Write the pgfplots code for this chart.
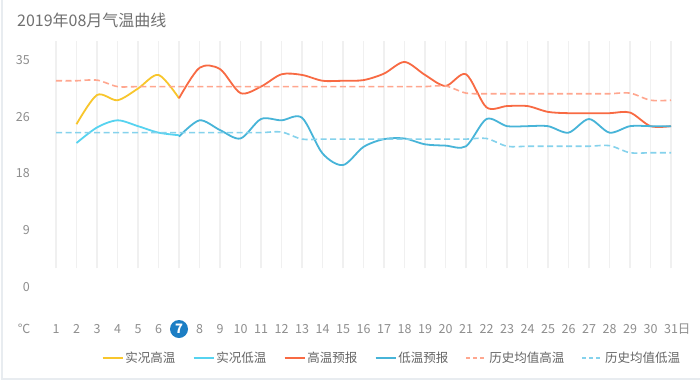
\documentclass[border=0pt]{standalone}
\usepackage{fontspec}
\newfontfamily\cjk{Noto Sans CJK SC}
\usepackage{pgfplots}
\pgfplotsset{compat=1.18}
\definecolor{cYel}{HTML}{F8C62C}
\definecolor{cCyan}{HTML}{56D3F0}
\definecolor{cRed}{HTML}{F86A43}
\definecolor{cBlue}{HTML}{47B4D8}
\definecolor{cHistHi}{HTML}{FFA78F}
\definecolor{cHistLo}{HTML}{85D2EC}
\definecolor{cGrid}{HTML}{F0F0F0}
\definecolor{cTick}{HTML}{8E8E8E}
\definecolor{cTitle}{HTML}{707070}
\definecolor{cLeg}{HTML}{666666}
\definecolor{cSeven}{HTML}{1C7EC4}
\definecolor{cFrame}{HTML}{E8ECF0}
\begin{document}
\begin{tikzpicture}
\useasboundingbox (0,0) rectangle (700pt,-382pt);
\fill[white] (0,0) rectangle (700pt,-382pt);
\draw[cFrame, line width=2pt] (2pt,0pt) -- (2pt,-379pt) -- (700pt,-379pt);
\node[anchor=west, inner sep=0pt, font=\cjk\fontsize{16}{18}\selectfont, text=cTitle] at (17pt,-20pt) {2019年08月气温曲线};
\begin{axis}[
  at={(56pt,-287pt)}, anchor=south west,
  scale only axis, width=615pt, height=227pt,
  xmin=1, xmax=31, ymin=0, ymax=35, clip=false,
  axis line style={draw=none}, tick style={draw=none},
  xtick={1,...,31},
  xticklabels={1,2,3,4,5,6,{},8,9,10,11,12,13,14,15,16,17,18,19,20,21,22,23,24,25,26,27,28,29,30,{31\rlap{日}}},
  ytick={0,8.75,17.5,26.25,35},
  yticklabels={0,9,18,26,35},
  /pgf/number format/assume math mode=true,
  xticklabel style={anchor=center, inner sep=0pt, yshift=-42pt, font=\cjk\fontsize{12.5}{14}\selectfont, text=cTick},
  yticklabel style={anchor=east, inner sep=0pt, xshift=-26pt, font=\cjk\fontsize{12.5}{14}\selectfont, text=cTick},
  xmajorgrids,
  major x grid style={draw=cGrid, line width=1.2pt, yshift=19pt},
  legend columns=6,
  legend cell align=left,
  legend style={at={(axis cs:31.55,-10.95)}, anchor=east, draw=none, fill=none, inner sep=0pt,
    font=\cjk\fontsize{12.5}{14}\selectfont, text=cLeg,
    /tikz/every even column/.append style={column sep=15.2pt},
    nodes={inner sep=2pt}},
  legend image code/.code={\draw[#1] (0pt,0pt) -- (20pt,0pt);},
]
\addplot[cYel, line width=1.8pt, smooth] coordinates {(2,25.1)(3,29.6)(4,28.8)(5,30.6)(6,32.7)(7,29.1)};
\addlegendentry{实况高温}
\addplot[cCyan, line width=1.8pt, smooth] coordinates {(2,22.2)(3,24.6)(4,25.7)(5,24.8)(6,23.8)(7,23.4)};
\addlegendentry{实况低温}
\addplot[cRed, line width=1.8pt, smooth] coordinates {(7,29.1)(8,33.8)(9,33.6)(10,29.9)(11,30.9)(12,32.8)(13,32.7)(14,31.8)(15,31.8)(16,31.9)(17,32.9)(18,34.7)(19,32.7)(20,31.0)(21,32.8)(22,27.7)(23,27.9)(24,27.9)(25,27.0)(26,26.8)(27,26.8)(28,26.8)(29,26.9)(30,24.8)(31,24.8)};
\addlegendentry{高温预报}
\addplot[cBlue, line width=1.8pt, smooth] coordinates {(7,23.2)(8,25.7)(9,24.2)(10,22.9)(11,25.9)(12,25.7)(13,26.1)(14,20.6)(15,18.8)(16,21.6)(17,22.8)(18,22.9)(19,22.0)(20,21.8)(21,21.7)(22,25.9)(23,24.8)(24,24.8)(25,24.8)(26,23.8)(27,25.9)(28,23.8)(29,24.8)(30,24.8)(31,24.8)};
\addlegendentry{低温预报}
\addplot[cHistHi, line width=1.6pt, smooth, dash pattern=on 6pt off 3.5pt, legend image post style={dash pattern=on 4pt off 3pt}] coordinates {(1,31.8)(2,31.8)(3,31.9)(4,30.9)(5,30.9)(6,30.9)(7,30.9)(8,30.9)(9,30.9)(10,30.9)(11,30.9)(12,30.9)(13,30.9)(14,30.9)(15,30.9)(16,30.9)(17,30.9)(18,30.9)(19,30.9)(20,31.0)(21,29.9)(22,29.8)(23,29.8)(24,29.8)(25,29.8)(26,29.8)(27,29.8)(28,29.8)(29,29.9)(30,28.8)(31,28.8)};
\addlegendentry{历史均值高温}
\addplot[cHistLo, line width=1.6pt, smooth, dash pattern=on 6pt off 3.5pt, legend image post style={dash pattern=on 4pt off 3pt}] coordinates {(1,23.8)(2,23.8)(3,23.8)(4,23.8)(5,23.8)(6,23.8)(7,23.8)(8,23.8)(9,23.8)(10,23.8)(11,23.8)(12,23.9)(13,22.8)(14,22.8)(15,22.8)(16,22.8)(17,22.8)(18,22.8)(19,22.8)(20,22.8)(21,22.8)(22,22.9)(23,21.7)(24,21.7)(25,21.7)(26,21.7)(27,21.7)(28,21.8)(29,20.7)(30,20.7)(31,20.7)};
\addlegendentry{历史均值低温}
\node[inner sep=0pt, font=\cjk\fontsize{12.5}{14}\selectfont, text=cTick] at (axis cs:-0.56,-6.48) {℃};
\node[circle, fill=cSeven, text=white, inner sep=0pt, minimum size=18pt, font=\cjk\bfseries\fontsize{13}{14}\selectfont] at (axis cs:7,-6.48) {7};
\end{axis}
\end{tikzpicture}
\end{document}
